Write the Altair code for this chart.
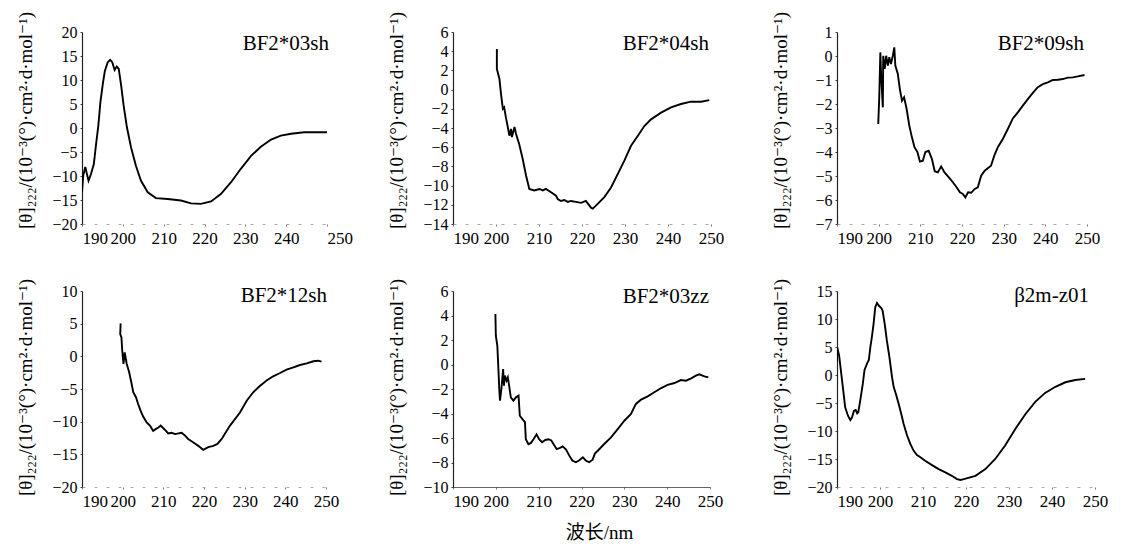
import altair as alt
import pandas as pd

FONT = "Liberation Serif, DejaVu Serif, serif"
YTITLE = "[θ]₂₂₂/(10⁻³(°)·cm²·d·mol⁻¹)"
XTITLE = "波长/nm"
X_TICKS = [190, 200, 210, 220, 230, 240, 250]

NAMES = ["BF2*03sh", "BF2*04sh", "BF2*09sh", "BF2*12sh", "BF2*03zz", "β2m-z01"]

P1_NM = [190.0, 190.3, 190.8, 191.2, 191.6, 192.2, 192.9, 193.4, 194.0, 194.5, 195.1, 195.6,
         196.3, 196.9, 197.4, 198.0, 198.5, 199.0, 199.6, 200.2, 201.0, 202.0, 203.2, 204.45,
         206.1, 208.1, 211.0, 214.25, 216.7, 219.1, 221.6, 224.0, 226.5, 228.9, 231.4, 233.8,
         236.3, 238.7, 241.2, 244.4, 247.7, 250.0]
P1_VAL = [-13.4, -9.9, -8.1, -9.6, -11.0, -9.6, -7.5, -3.7, 0.5, 5.35, 9.2, 11.9,
          13.7, 14.2, 13.7, 12.1, 12.8, 12.3, 8.8, 4.65, 0.15, -4.0, -7.85, -11.0,
          -13.4, -14.6, -14.8, -15.1, -15.7, -15.8, -15.3, -13.75, -11.3, -8.5, -5.8, -3.9,
          -2.4, -1.6, -1.2, -0.9, -0.9, -0.9]

P2_NM = [200.2, 200.2, 200.8, 201.2, 201.6, 201.9, 202.3, 202.7, 203.1, 203.5, 203.7, 204.3,
         204.65, 205.4, 206.2, 207.0, 207.75, 208.9, 210.1, 210.9, 211.6, 212.8, 213.95, 214.35,
         215.1, 215.9, 216.7, 217.4, 218.6, 219.8, 220.9, 222.1, 222.5, 223.65, 225.2, 226.75,
         228.3, 229.85, 231.4, 233.0, 234.5, 236.05, 238.4, 240.7, 243.0, 245.35, 247.7, 249.6]
P2_VAL = [4.23, 2.15, 1.1, -0.6, -2.0, -1.85, -2.9, -3.8, -4.8, -4.1, -4.95, -3.9,
          -4.6, -5.7, -7.2, -8.97, -10.35, -10.5, -10.35, -10.5, -10.35, -10.7, -11.05, -11.4,
          -11.6, -11.5, -11.7, -11.6, -11.7, -11.8, -11.6, -12.3, -12.4, -11.9, -11.2, -10.2,
          -8.8, -7.4, -5.85, -4.8, -3.8, -3.1, -2.4, -1.85, -1.5, -1.26, -1.26, -1.1]

P3_NM = [199.9, 200.15, 200.4, 200.6, 201.0, 201.1, 201.45, 201.8, 202.2, 202.55, 202.95, 203.4,
         203.75, 204.0, 204.6, 205.1, 205.6, 206.1, 206.7, 207.35, 208.0, 208.6, 209.3, 209.9,
         210.6, 211.2, 212.0, 212.8, 213.45, 214.2, 215.0, 215.8, 216.8, 217.8, 218.7, 219.5,
         220.2, 220.8, 221.45, 222.2, 223.05, 223.8, 224.6, 225.45, 226.96, 227.75, 228.6, 229.8,
         231.0, 232.2, 233.4, 234.6, 235.8, 237.0, 238.2, 239.4, 240.6, 241.8, 243.0, 244.2,
         245.4, 246.6, 247.8, 249.4]
P3_VAL = [-2.83, -1.65, 0.15, -0.82, -2.14, 0.01, -0.54, 0.01, -0.4, -0.05, -0.33, 0.01,
          0.36, -0.4, -0.75, -1.4, -1.86, -1.72, -2.2, -2.9, -3.4, -3.8, -4.0, -4.4,
          -4.36, -4.0, -3.95, -4.3, -4.8, -4.85, -4.6, -4.85, -5.05, -5.26, -5.47, -5.68,
          -5.75, -5.89, -5.68, -5.7, -5.54, -5.47, -4.99, -4.78, -4.57, -4.15, -3.8, -3.46,
          -3.04, -2.6, -2.35, -2.07, -1.8, -1.54, -1.3, -1.17, -1.1, -1.0, -0.99, -0.96,
          -0.9, -0.89, -0.85, -0.79]

P4_NM = [199.5, 199.4, 199.7, 199.9, 200.2, 200.5, 201.0, 201.6, 202.2, 202.6, 203.3, 203.8,
         204.4, 205.1, 205.9, 206.7, 207.5, 208.2, 208.8, 209.35, 210.0, 210.65, 211.2, 212.05,
         212.9, 213.7, 214.5, 215.3, 216.1, 217.4, 218.6, 219.8, 221.05, 222.3, 223.3, 224.35,
         225.6, 226.4, 228.85, 230.5, 232.1, 233.8, 235.4, 237.0, 238.7, 240.3, 242.0, 243.6,
         245.25, 246.9, 248.1, 248.9]
P4_VAL = [5.05, 3.4, 2.9, 0.86, -1.17, 0.6, -1.17, -2.45, -4.2, -5.5, -6.3, -7.3,
          -8.3, -9.3, -10.1, -10.6, -11.4, -11.1, -10.9, -10.6, -11.0, -11.4, -11.8, -11.7,
          -11.9, -11.8, -11.7, -12.1, -12.65, -13.2, -13.7, -14.3, -13.9, -13.7, -13.4, -12.65,
          -11.4, -10.6, -8.6, -6.8, -5.5, -4.5, -3.7, -3.06, -2.55, -2.04, -1.68, -1.33,
          -1.07, -0.76, -0.67, -0.82]

P5_NM = [199.9, 200.0, 200.35, 200.6, 200.8, 200.97, 201.3, 201.7, 201.9, 202.1, 202.5, 202.8,
         203.1, 203.5, 204.1, 204.7, 205.3, 205.6, 206.3, 206.8, 207.0, 207.6, 208.2, 208.8,
         209.5, 210.1, 210.8, 211.55, 212.3, 212.95, 213.6, 214.2, 215.0, 215.6, 216.4, 217.15,
         217.9, 218.7, 219.5, 220.3, 221.05, 221.8, 222.6, 223.15, 223.8, 225.3, 226.9, 228.45,
         230.0, 231.55, 232.7, 233.9, 235.45, 237.0, 238.6, 240.1, 241.7, 243.2, 244.4, 245.6,
         246.7, 247.5, 248.7, 249.6]
P5_VAL = [4.12, 2.35, 1.53, -0.37, -2.0, -2.95, -2.0, -0.37, -1.73, -0.91, -1.32, -1.05,
          -1.73, -2.68, -2.95, -2.68, -2.55, -4.18, -4.5, -4.7, -6.1, -6.5, -6.4, -6.1,
          -5.7, -6.1, -6.35, -6.16, -6.1, -6.2, -6.57, -6.9, -6.8, -6.68, -6.95, -7.44,
          -7.85, -7.98, -7.82, -7.57, -7.85, -7.98, -7.77, -7.25, -7.04, -6.49, -5.95, -5.27,
          -4.59, -4.04, -3.22, -2.87, -2.6, -2.27, -1.92, -1.67, -1.51, -1.27, -1.32, -1.13,
          -0.91, -0.8, -0.97, -1.05]

P6_NM = [190.0, 190.0, 190.2, 190.5, 191.0, 191.55, 191.9, 192.55, 193.1, 193.5, 193.95, 194.35,
         194.7, 194.95, 195.4, 196.0, 196.4, 197.0, 197.4, 197.75, 198.1, 198.5, 198.9, 199.3,
         199.7, 200.3, 200.6, 201.1, 201.6, 202.2, 202.8, 203.2, 203.7, 204.35, 204.95, 205.5,
         206.3, 207.05, 207.8, 208.6, 209.4, 210.5, 212.1, 213.65, 215.2, 216.7, 217.9, 218.7,
         219.5, 222.2, 224.5, 226.8, 229.1, 231.5, 233.8, 236.1, 238.4, 240.8, 243.1, 245.4, 247.7]
P6_VAL = [2.55, 4.05, 4.46, 3.45, 0.18, -3.4, -5.77, -7.27, -8.04, -7.55, -6.38, -6.25,
          -6.84, -6.66, -4.59, -1.6, 0.9, 2.09, 2.68, 4.95, 6.73, 9.1, 12.1, 12.86,
          12.4, 11.96, 11.5, 9.1, 6.13, 3.16, -0.4, -2.2, -3.4, -5.2, -6.96, -8.75,
          -10.8, -12.3, -13.5, -14.3, -14.7, -15.3, -16.1, -16.8, -17.4, -18.0, -18.6, -18.75,
          -18.6, -18.0, -16.8, -15.0, -12.6, -9.6, -7.0, -4.8, -3.2, -2.1, -1.3, -0.9, -0.7]


def panel(nm, val, name, ydom, ystep, w, h, name_dx, name_y, title_y,
          last_left=False, solid_x=False, xtitle=False):
    df = pd.DataFrame({"nm": nm, "val": val, "i": list(range(len(nm)))})
    yvals = list(range(ydom[0], ydom[1] + 1, ystep))
    if last_left:
        align_expr = "datum.value == 190 || datum.value == 250 ? 'left' : 'center'"
    else:
        align_expr = "datum.value == 190 ? 'left' : 'center'"
    xkw = dict(
        values=X_TICKS, grid=False, labelFont=FONT, labelFontSize=17, labelColor="black",
        labelPadding=4, tickSize=2, tickColor="#777", labelFlush=False,
        labelAlign={"expr": align_expr},
        domainColor="#333" if solid_x else "#aaa", domainWidth=1,
        domainDash=[1, 0] if solid_x else [3, 9],
    )
    if xtitle:
        xkw.update(title=XTITLE, titleFont="Liberation Serif, Noto Sans CJK SC", titleFontSize=19,
                   titleFontWeight="normal", titleColor="black", titleX=146, titleY=45,
                   titleAlign="center", titleBaseline="middle")
    else:
        xkw.update(title="")
    yaxis = alt.Axis(
        values=yvals, grid=False, title=YTITLE, titleFont=FONT, titleFontSize=19,
        titleFontWeight="normal", titleColor="black", titleX=-57, titleY=title_y,
        titleAngle=-90, titleAlign="center", titleBaseline="middle",
        labelFont=FONT, labelFontSize=16, labelColor="black", labelPadding=3,
        tickSize=2, tickColor="#444", domainColor="#222", domainWidth=1.2,
    )
    line = alt.Chart(df).mark_line(color="black", strokeWidth=1.9, clip=True).encode(
        x=alt.X("nm:Q", scale=alt.Scale(domain=[190, 250], nice=False, zero=False),
                axis=alt.Axis(**xkw)),
        y=alt.Y("val:Q", scale=alt.Scale(domain=list(ydom), nice=False, zero=False), axis=yaxis),
        order=alt.Order("i:Q"),
    )
    txt = alt.Chart(pd.DataFrame({"t": [name]})).mark_text(
        align="right", baseline="middle", font=FONT, fontSize=21, color="black"
    ).encode(x=alt.value(w + name_dx), y=alt.value(name_y), text="t:N")
    return alt.layer(line, txt).properties(width=w, height=h)


p1 = panel(P1_NM, P1_VAL, NAMES[0], (-20, 20), 5, 245, 192, 2, 12, 88, last_left=True)
p2 = panel(P2_NM, P2_VAL, NAMES[1], (-14, 6), 2, 258, 192, -2, 12, 88)
p3 = panel(P3_NM, P3_VAL, NAMES[2], (-7, 1), 1, 250, 192, -3, 12, 88)
p4 = panel(P4_NM, P4_VAL, NAMES[3], (-20, 10), 5, 244, 196, 1, 5, 96)
p5 = panel(P5_NM, P5_VAL, NAMES[4], (-10, 6), 2, 257, 196, -1, 6, 96, solid_x=True, xtitle=True)
p6 = panel(P6_NM, P6_VAL, NAMES[5], (-20, 15), 5, 258, 196, -6, 5, 96)

chart = alt.concat(
    p1, p2, p3, p4, p5, p6, columns=3,
    spacing={"row": 67, "column": 126}, bounds="flush", align="each",
).properties(
    padding={"left": 7, "top": 2, "right": 0, "bottom": 0},
    background="white",
).configure_view(stroke="transparent")

chart.save("out.html", embed_options={"renderer": "svg", "actions": False})
